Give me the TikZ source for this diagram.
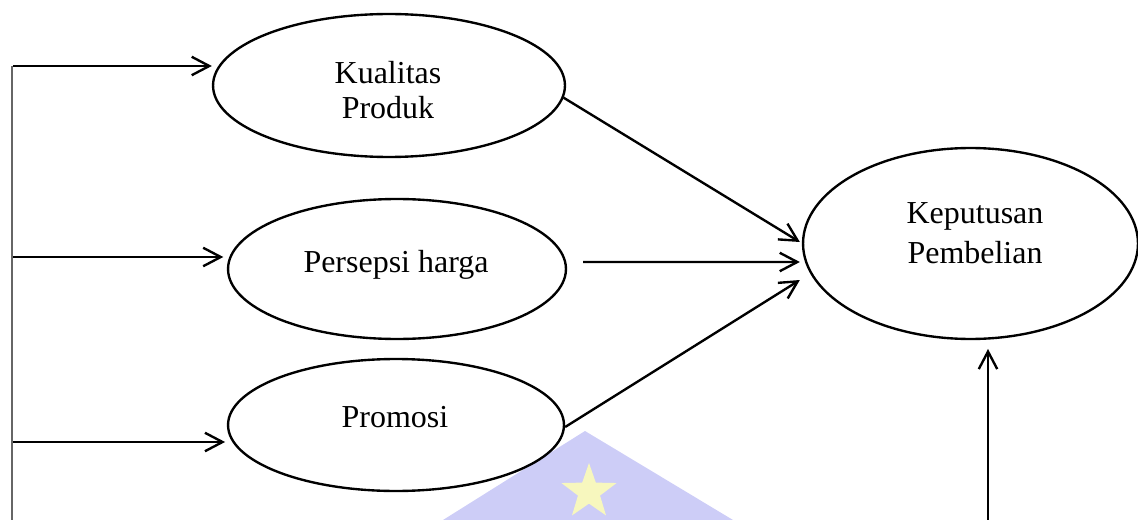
\documentclass[tikz,border=0pt]{standalone}
\usepackage{fontspec}
\setmainfont{Liberation Serif}
\usepackage{tikz}
\usetikzlibrary{arrows.meta,calc,shapes.geometric}

\definecolor{wmblue}{RGB}{205,205,247}
\definecolor{wmstar}{RGB}{247,247,190}

\tikzset{
  var/.style={ellipse,draw,fill=white,line width=1.35pt,inner sep=0pt},
  lbl/.style={align=center,font=\fontsize{18.2}{19.5}\selectfont},
}

\begin{document}
\begin{tikzpicture}[x=0.02cm,y=-0.02cm,line width=1.35pt,
  >={Straight Barb[length=10pt,width=10.5pt]}]
  \useasboundingbox (0,0) rectangle (1138,520);

  % watermark in the background
  \fill[wmblue] (443,520) -- (585,431) -- (733,520) -- cycle;
  \node[star,star points=5,star point ratio=2.5,fill=wmstar,minimum size=58*0.02cm,inner sep=0pt] (bintang) at (589,492) {};

  \node[var,minimum width=7.04cm,minimum height=2.86cm] (kq) at (389,85.5) {}; % Kualitas Produk
  \node[var,minimum width=6.76cm,minimum height=2.80cm] (ph) at (397,269) {}; % Persepsi harga
  \node[var,minimum width=6.72cm,minimum height=2.64cm] (pr) at (396,425) {}; % Promosi
  \node[var,minimum width=6.70cm,minimum height=3.82cm] (kb) at (970.5,243.5) {}; % Keputusan Pembelian

  \node[lbl] (kqt) at (388,90) {Kualitas\\Produk};
  \node[lbl] (pht) at (396,265) {Persepsi harga};
  \node[lbl] (prt) at (395,417) {Promosi};
  \node[lbl,font=\fontsize{18.2}{22.7}\selectfont] (kbt) at (975,233) {Keputusan\\Pembelian};

  \coordinate (a1) at (13,66);
  \coordinate (a2) at (13,257);
  \coordinate (a3) at (13,442);
  \coordinate (top) at (12,66);
  \coordinate (bot) at (12,520);
  \coordinate (b0) at (988,520);

  % left line
  \draw[line width=0.7pt,black!60] (top) -- (bot);

  \draw[->] (a1) -- (kq.west |- a1);
  \draw[->,shorten >=2pt] (a2) -- (ph.west |- a2);
  \draw[->,shorten >=1pt] (a3) -- (pr.west |- a3);

  \draw[->] (kq.-4) -- ($(kb.west)+(-2,-1.5)$);
  \draw[->] ($(ph.east)+(16,-7)$) -- ($(kb.west)+(-2,18.5)$);
  \draw[->] ($(pr.east)+(0,2)$) -- ($(kb.west)+(-2,36.5)$);
  \draw[->,shorten >=5pt] (b0) -- (kb.south -| b0);

\end{tikzpicture}
\end{document}
